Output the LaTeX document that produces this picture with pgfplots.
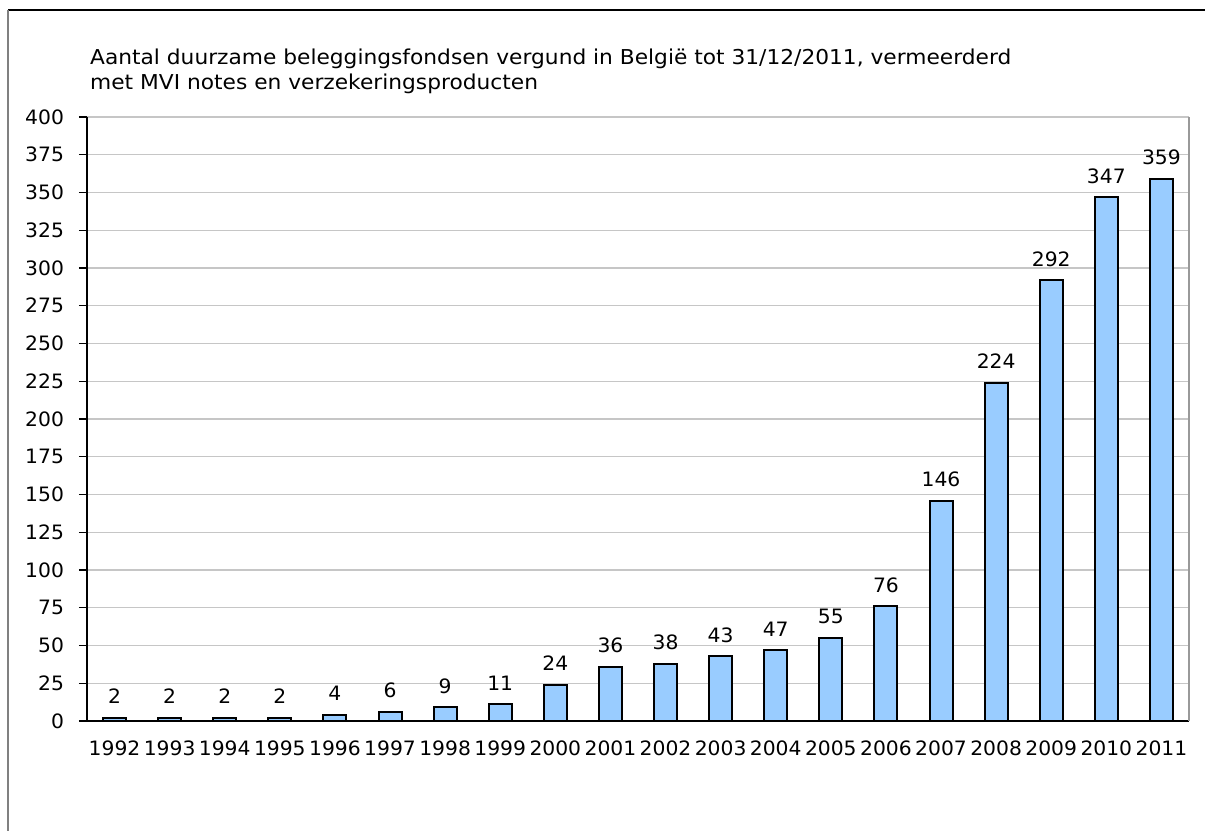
\documentclass[border=0pt]{standalone}
\usepackage{fontspec}
\setmainfont[FakeStretch=1.06]{DejaVu Sans}
\newfontfamily\numfont[FakeStretch=1.025]{DejaVu Sans}
\usepackage{pgfplots}
\pgfplotsset{compat=1.18}
\definecolor{barblue}{RGB}{153,204,255}
\newcommand{\fs}{\fontsize{20.5pt}{25pt}\selectfont}
\newcommand{\ns}{\numfont\fontsize{19.8pt}{24pt}\selectfont}
\begin{document}
\fs
\begin{tikzpicture}[x=1pt,y=1pt]
\useasboundingbox (0,0) rectangle (1205,831);
\draw[black, line width=1.5pt] (8,821) -- (1205,821);
\draw[gray, line width=2pt] (8,821) -- (8,0);
\node[anchor=base west, inner sep=0] at (90,766) {Aantal duurzame beleggingsfondsen vergund in België tot 31/12/2011, vermeerderd};
\node[anchor=base west, inner sep=0] at (90,741) {met MVI notes en verzekeringsproducten};
\begin{axis}[
  at={(87pt,110pt)}, anchor=south west, scale only axis,
  width=1102pt, height=604pt,
  xmin=-0.5, xmax=19.5, ymin=0, ymax=400,
  ytick={0,25,...,400},
  xtick={0,...,19},
  xticklabels={1992,1993,1994,1995,1996,1997,1998,1999,2000,2001,2002,2003,2004,2005,2006,2007,2008,2009,2010,2011},
  minor xtick={-0.5,0.5,...,19.5},
  axis x line*=bottom, axis y line*=left,
  axis line style={black, line width=1.5pt},
  tick align=outside,
  major tick length=8pt, minor tick length=7pt,
  xtick style={draw=none},
  minor x tick style={black, line width=1.2pt},
  ytick style={black, line width=1.2pt},
  ymajorgrids, grid style={gray!45, line width=1.2pt},
  /pgf/number format/assume math mode=true,
  xticklabel style={anchor=base, yshift=-26pt, font=\ns},
  yticklabel style={font=\ns, xshift=-8pt},
  ybar, bar width=23pt,
  nodes near coords,
  every node near coord/.append style={anchor=base, yshift=14pt, font=\ns, black},
  clip=false,
]
\addplot[fill=barblue, draw=black, line width=2pt] coordinates {
(0,2) (1,2) (2,2) (3,2) (4,4) (5,6) (6,9) (7,11) (8,24) (9,36)
(10,38) (11,43) (12,47) (13,55) (14,76) (15,146) (16,224) (17,292) (18,347) (19,359)};
\draw[gray!80, line width=1.5pt] (rel axis cs:1,0) -- (rel axis cs:1,1);
\end{axis}
\end{tikzpicture}
\end{document}
